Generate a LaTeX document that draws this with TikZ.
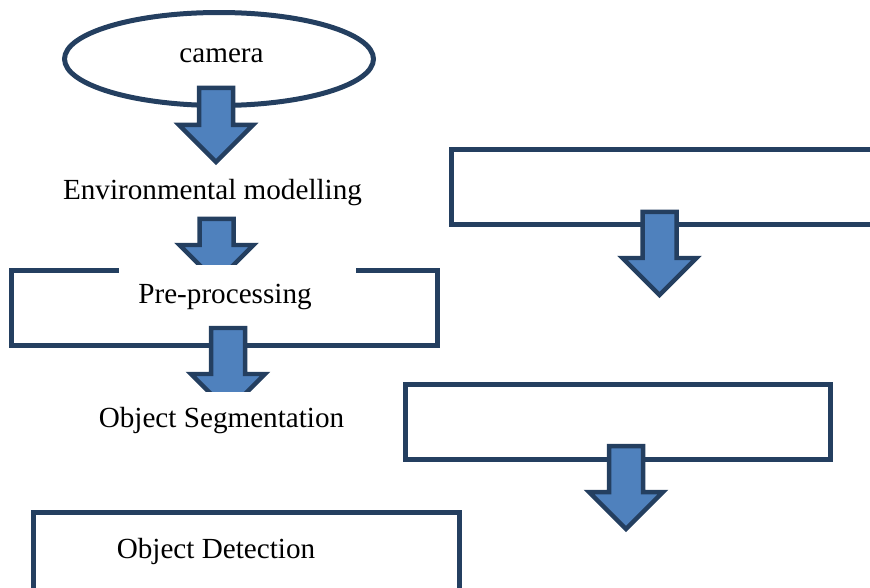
\documentclass[tikz,border=0pt]{standalone}
\usepackage{fontspec}
\setmainfont{Liberation Serif}
\usetikzlibrary{shapes.geometric}

\definecolor{darkedge}{HTML}{243F60}
\definecolor{arrowblue}{HTML}{4F81BD}

\tikzset{
  stagebox/.style={draw=darkedge, line width=0.1cm},
  blockarrow/.style={draw=darkedge, fill=arrowblue, line width=0.09cm, line join=miter},
  label/.style={font=\fontsize{16.6}{20}\selectfont, inner sep=0pt, anchor=base},
}

\begin{document}
\begin{tikzpicture}[x=0.02cm, y=-0.02cm]
	\useasboundingbox (0,0) rectangle (870,588);
	\clip (0,0) rectangle (870,588);

	% stages
	\node[stagebox, ellipse, minimum width=6.18cm, minimum height=1.86cm] (camera) at (219,59) {};
	\node[stagebox, rectangle, minimum width=8.52cm, minimum height=1.5cm] (pre) at (224.5,308) {};
	\node[stagebox, rectangle, minimum width=8.52cm, minimum height=2.2cm] (det) at (246.5,567.5) {};
	\node[stagebox, rectangle, minimum width=8.97cm, minimum height=1.5cm] (upper) at (675.75,187) {};
	\node[stagebox, rectangle, minimum width=8.5cm, minimum height=1.5cm] (lower) at (618,422) {};

	% block arrows: centre x / top y / shaft length
	\foreach \x/\y/\s in {216/88/37, 216.5/219/26, 228/328/46, 659.5/212/46, 626/446/46}
	    \draw[blockarrow] (\x-17,\y) -- (\x+17,\y) -- (\x+17,\y+\s) -- (\x+37,\y+\s)
	        -- (\x,\y+\s+37) -- (\x-37,\y+\s) -- (\x-17,\y+\s) -- cycle;

	% white text boxes over the arrows
	\fill[white] (119,265) rectangle (356,322);
	\fill[white] (88,392) rectangle (360,442);

	\node[label] (cameratext) at (221.5,63) {camera};
	\node[label] (envtext) at (212.5,200) {Environmental modelling};
	\node[label] (pretext) at (225,303) {Pre-processing};
	\node[label] (segtext) at (221.5,427) {Object Segmentation};
	\node[label] (dettext) at (216,558) {Object Detection};
\end{tikzpicture}
\end{document}
